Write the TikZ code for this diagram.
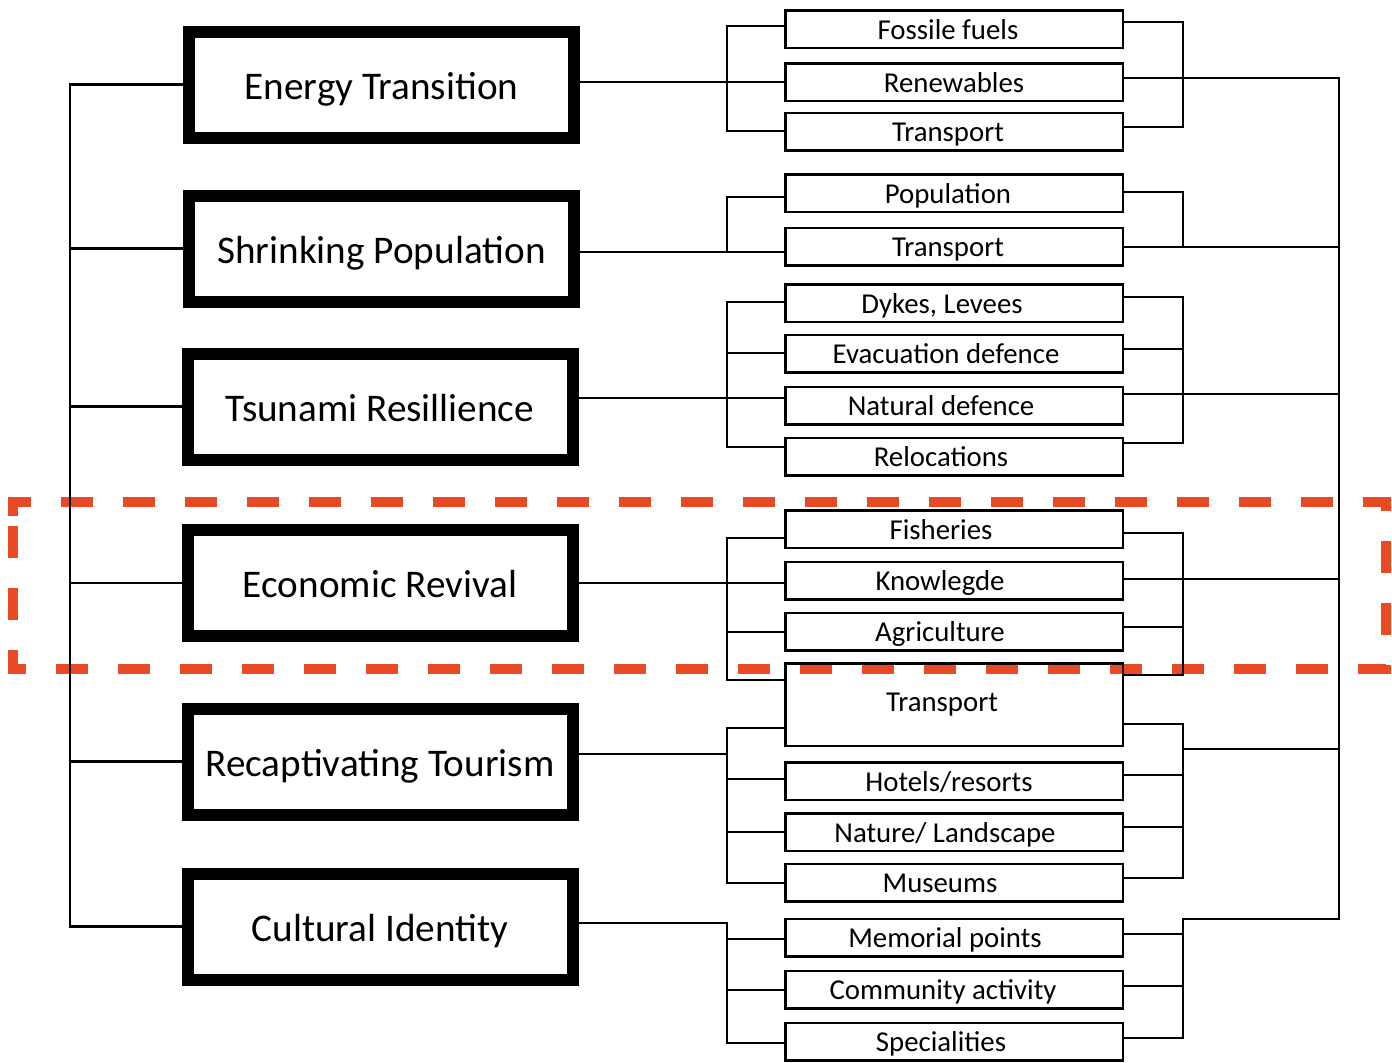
\documentclass[tikz,border=0pt]{standalone}
\usepackage{fontspec}
\setmainfont{Carlito}
\definecolor{dashorange}{RGB}{232,75,35}
\newcommand\subnode[4]{\node[subbox,label={[subtext,xshift=#3]center:#4}] (#1) at (954,#2) {};}
\begin{document}
\begin{tikzpicture}[x=0.5pt,y=-0.5pt,
  mainbox/.style={draw, line width=6pt, minimum width=192.5pt, minimum height=53pt, inner sep=0pt, font=\fontsize{19.6}{22}\selectfont, text height=16pt, text depth=1.5pt},
  subbox/.style={draw, line width=1.25pt, minimum width=168.75pt, minimum height=18.75pt, inner sep=0pt},
  subtext/.style={font=\fontsize{14.4}{16}\selectfont, inner sep=0pt, text height=11pt, text depth=1pt},
  conn/.style={line width=1.15pt},
  hilite/.style={draw=dashorange, line width=5pt, dash pattern=on 16pt off 15pt}]
\useasboundingbox (0,0) rectangle (1392,1062);
% highlight frame
\draw[hilite] (13,516) -- (13,502) -- (1386,502) -- (1386,669) -- (13,669) -- cycle;
% bus coordinates
\coordinate (LB) at (70,0);
\coordinate (SL) at (727,0);
\coordinate (SR) at (1183,0);
\coordinate (FR) at (1339,0);
% main boxes
\node[mainbox] (m1) at (381.5,84.5) {Energy Transition};
\node[mainbox] (m2) at (381.5,248.5) {Shrinking Population};
\node[mainbox] (m3) at (380,406.5) {Tsunami Resillience};
\node[mainbox] (m4) at (380,583) {Economic Revival};
\node[mainbox] (m5) at (380,761.5) {Recaptivating Tourism};
\node[mainbox] (m6) at (380,926.5) {Cultural Identity};
% sub boxes
\subnode{f1}{29}{-3pt}{Fossile fuels}
\subnode{f2}{82}{0pt}{Renewables}
\subnode{f3}{131.5}{-3pt}{Transport}
\subnode{s1}{193}{-3pt}{Population}
\subnode{s2}{246.5}{-3pt}{Transport}
\subnode{t1}{303}{-6pt}{Dykes, Levees}
\subnode{t2}{353.5}{-4pt}{Evacuation defence}
\subnode{t3}{405.5}{-6.5pt}{Natural defence}
\subnode{t4}{456.5}{-6.5pt}{Relocations}
\subnode{e1}{529}{-6.5pt}{Fisheries}
\subnode{e2}{580.5}{-7pt}{Knowlegde}
\subnode{e3}{631.5}{-7pt}{Agriculture}
\node[subbox, minimum height=41.25pt, label={[subtext,xshift=-6pt,yshift=1.75pt]center:Transport}] (tr) at (954,704.5) {};
\subnode{r1}{781}{-2.5pt}{Hotels/resorts}
\subnode{r2}{832}{-4.5pt}{Nature/ Landscape}
\subnode{r3}{882.5}{-7pt}{Museums}
\subnode{c1}{937.5}{-4.5pt}{Memorial points}
\subnode{c2}{989.5}{-5.5pt}{Community activity}
\subnode{c3}{1041.5}{-6.5pt}{Specialities}
% left main bus
\draw[conn] (m1.west) -- (m1.west -| LB) -- (m6.west -| LB) -- (m6.west);
\foreach \n in {m2,m3,m4,m5} \draw[conn] (\n.west) -- (\n.west -| LB);
% Energy transition
\draw[conn] (m1.east |- 0,82) -- (f2.west |- 0,82);
\draw[conn] (f1.west |- 0,26) -- (SL |- 0,26) -- (SL |- 0,131) -- (f3.west |- 0,131);
\draw[conn] (f1.east |- 0,22) -- (SR |- 0,22) -- (SR |- 0,127) -- (f3.east |- 0,127);
\draw[conn] (f2.east |- 0,78) -- (FR |- 0,78) -- (FR |- 0,919) -- (SR |- 0,919) -- (SR |- 0,1038) -- (c3.east |- 0,1038);
% Shrinking population
\draw[conn] (m2.east |- 0,252) -- (s2.west |- 0,252);
\draw[conn] (s1.west |- 0,197) -- (SL |- 0,197) -- (SL |- 0,252);
\draw[conn] (s1.east |- 0,192) -- (SR |- 0,192) -- (SR |- 0,247);
\draw[conn] (s2.east |- 0,247) -- (FR |- 0,247);
% Tsunami resillience
\draw[conn] (m3.east |- 0,398) -- (t3.west |- 0,398);
\draw[conn] (t1.west |- 0,302) -- (SL |- 0,302) -- (SL |- 0,447) -- (t4.west |- 0,447);
\draw[conn] (t2.west |- 0,353) -- (SL |- 0,353);
\draw[conn] (t1.east |- 0,297) -- (SR |- 0,297) -- (SR |- 0,443) -- (t4.east |- 0,443);
\draw[conn] (t2.east |- 0,349) -- (SR |- 0,349);
\draw[conn] (t3.east |- 0,394) -- (FR |- 0,394);
% Economic revival
\draw[conn] (m4.east |- 0,583) -- (e2.west |- 0,583);
\draw[conn] (e1.west |- 0,538) -- (SL |- 0,538) -- (SL |- 0,680) -- (tr.west |- 0,680);
\draw[conn] (e3.west |- 0,632) -- (SL |- 0,632);
\draw[conn] (e1.east |- 0,533) -- (SR |- 0,533) -- (SR |- 0,675) -- (tr.east |- 0,675);
\draw[conn] (e3.east |- 0,627) -- (SR |- 0,627);
\draw[conn] (e2.east |- 0,579) -- (FR |- 0,579);
% Recaptivating tourism
\draw[conn] (m5.east |- 0,754) -- (SL |- 0,754);
\draw[conn] (tr.west |- 0,728) -- (SL |- 0,728) -- (SL |- 0,883) -- (r3.west |- 0,883);
\draw[conn] (r1.west |- 0,779) -- (SL |- 0,779);
\draw[conn] (r2.west |- 0,832) -- (SL |- 0,832);
\draw[conn] (tr.east |- 0,724) -- (SR |- 0,724) -- (SR |- 0,878) -- (r3.east |- 0,878);
\draw[conn] (r1.east |- 0,775) -- (SR |- 0,775);
\draw[conn] (r2.east |- 0,827) -- (SR |- 0,827);
\draw[conn] (SR |- 0,749) -- (FR |- 0,749);
% Cultural identity
\draw[conn] (m6.east |- 0,923) -- (SL |- 0,923) -- (SL |- 0,1043) -- (c3.west |- 0,1043);
\draw[conn] (c1.west |- 0,939) -- (SL |- 0,939);
\draw[conn] (c2.west |- 0,990) -- (SL |- 0,990);
\draw[conn] (c1.east |- 0,934) -- (SR |- 0,934);
\draw[conn] (c2.east |- 0,986) -- (SR |- 0,986);
\end{tikzpicture}
\end{document}
